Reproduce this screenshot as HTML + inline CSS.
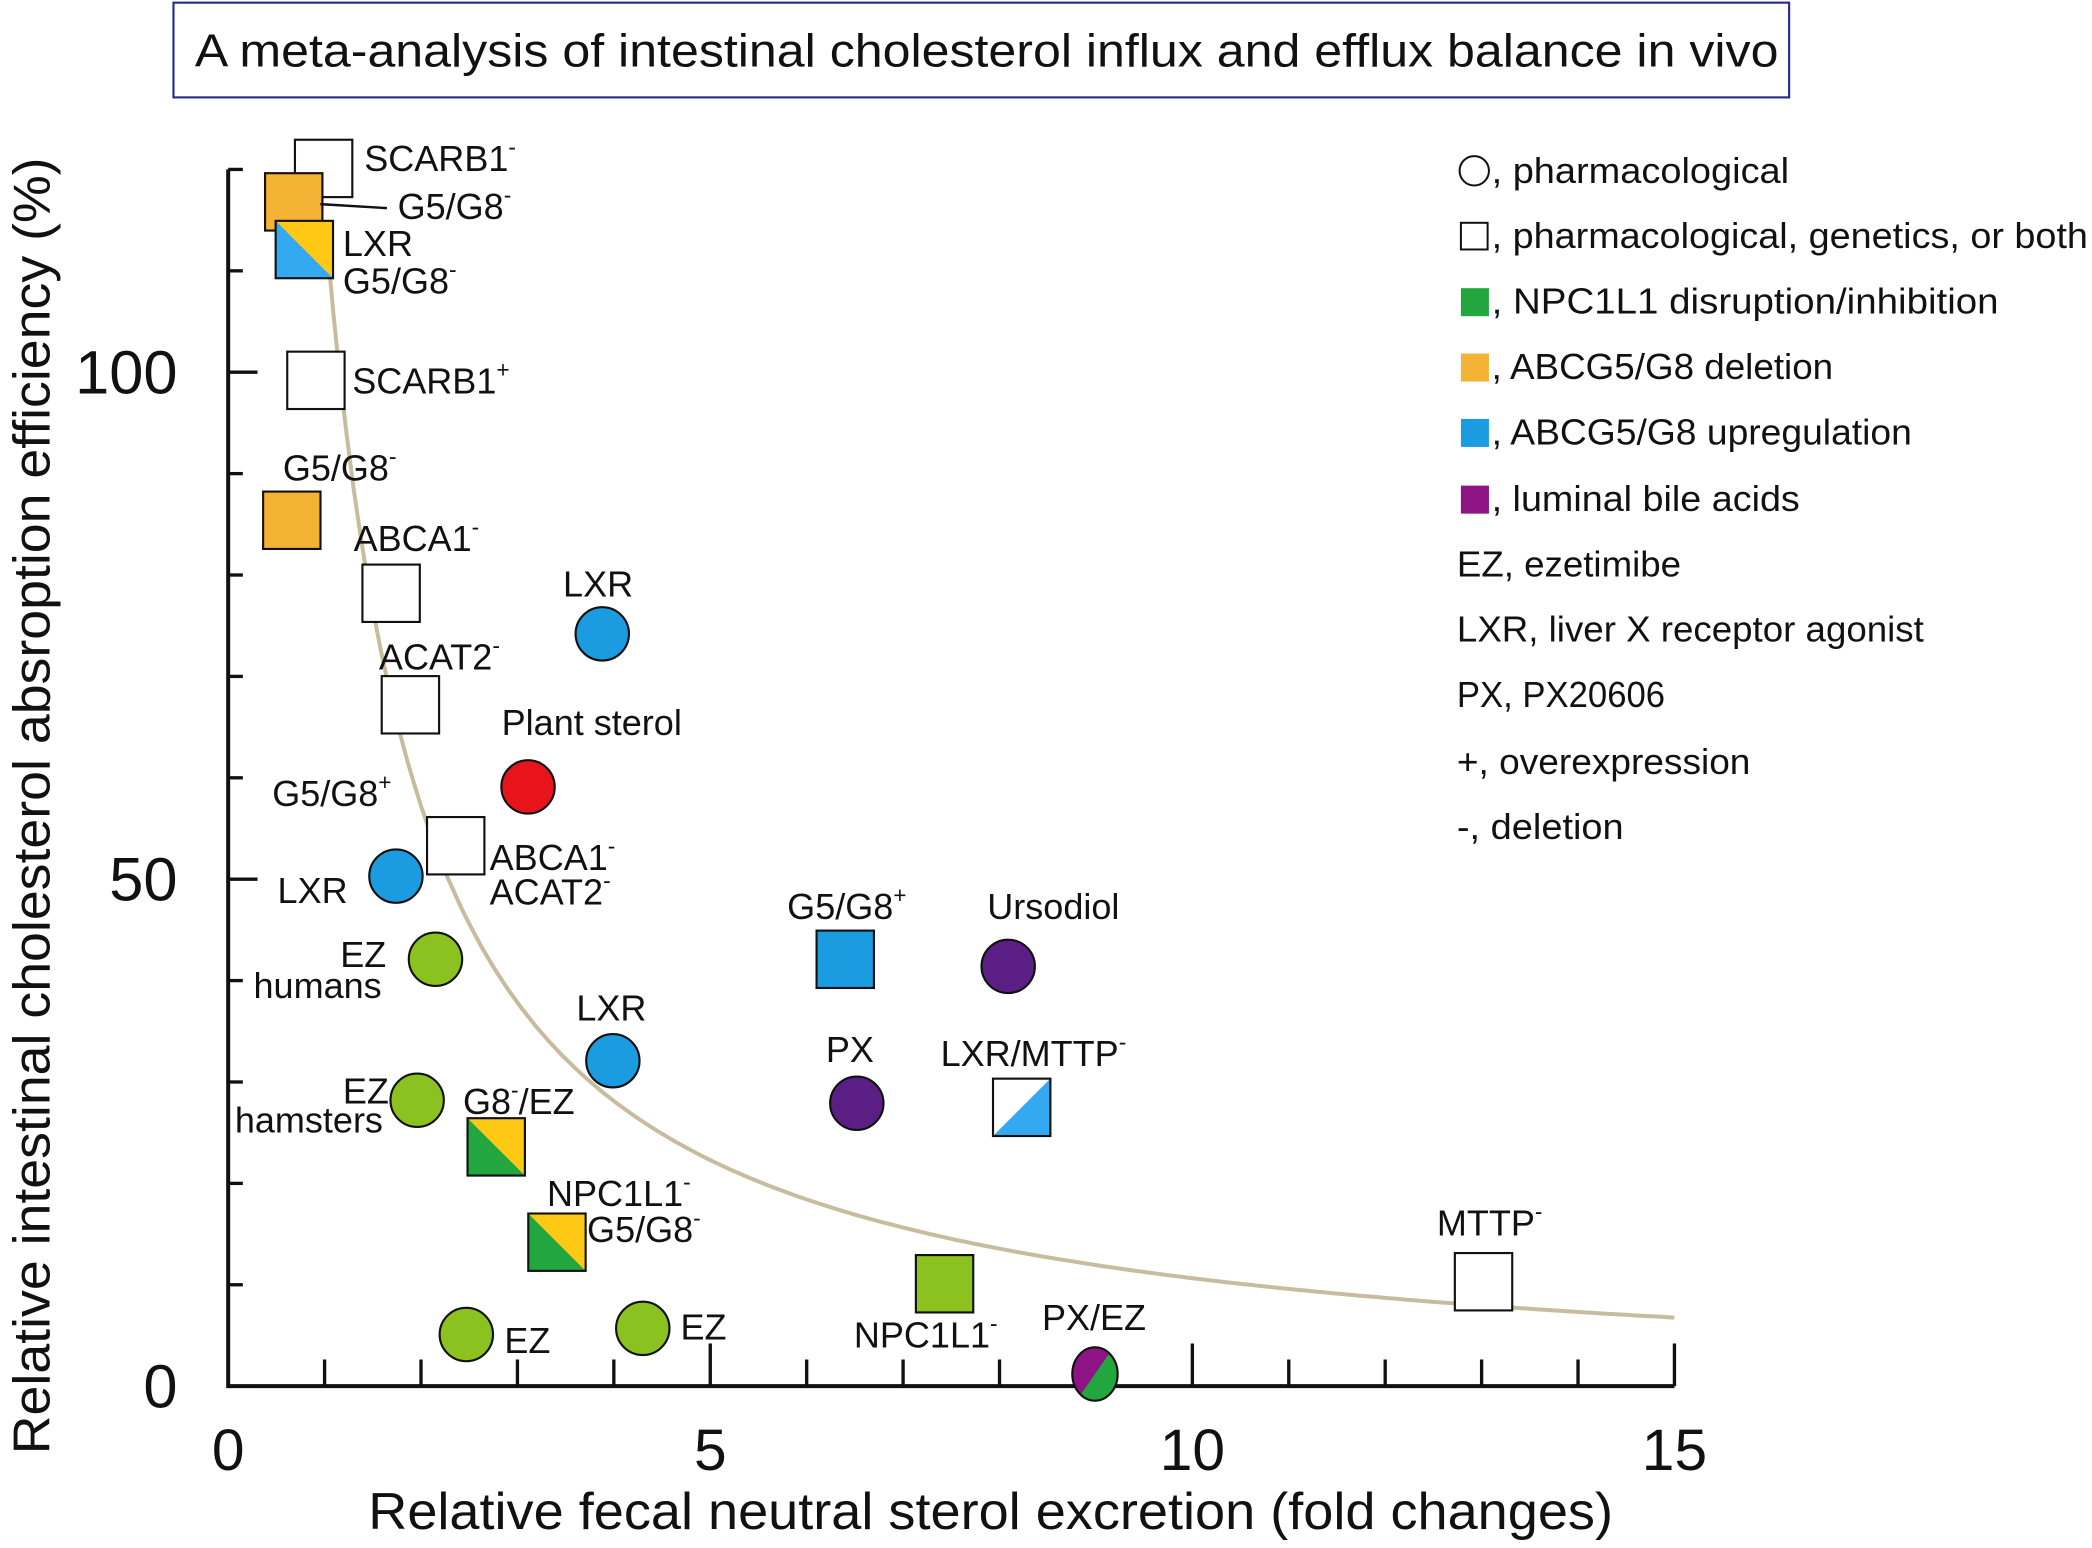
<!DOCTYPE html>
<html><head><meta charset="utf-8"><style>
html,body{margin:0;padding:0;background:#fff;}
svg{display:block;font-family:"Liberation Sans",sans-serif;}
</style></head><body>
<svg id="chart" width="2092" height="1548" viewBox="0 0 1568 1160.3" xmlns="http://www.w3.org/2000/svg">
<rect x="130" y="2" width="1211" height="71" fill="#fff" stroke="#2a2a8a" stroke-width="1.6"/>
<text x="146" y="50" font-size="35" textLength="1187" lengthAdjust="spacingAndGlyphs" fill="#111">A meta-analysis of intestinal cholesterol influx and efflux balance in vivo</text>
<g id="axes"></g>
<path id="curve" fill="none" stroke="#c8bc9f" stroke-width="3"/>
<g id="marks"></g>
<g id="labels" font-size="27" fill="#111">
<text x="273" y="128">SCARB1<tspan dy="-12" font-size="17">-</tspan></text>
<line x1="240" y1="153" x2="290" y2="156" stroke="#111" stroke-width="1.8"/>
<text x="298" y="164">G5/G8<tspan dy="-12" font-size="17">-</tspan></text>
<text x="257" y="192">LXR</text>
<text x="257" y="220">G5/G8<tspan dy="-12" font-size="17">-</tspan></text>
<text x="264" y="295">SCARB1<tspan dy="-12" font-size="17">+</tspan></text>
<text x="212" y="360">G5/G8<tspan dy="-12" font-size="17">-</tspan></text>
<text x="265" y="413">ABCA1<tspan dy="-12" font-size="17">-</tspan></text>
<text x="422" y="447">LXR</text>
<text x="284" y="502">ACAT2<tspan dy="-12" font-size="17">-</tspan></text>
<text x="376" y="551">Plant sterol</text>
<text x="204" y="604">G5/G8<tspan dy="-12" font-size="17">+</tspan></text>
<text x="367" y="652">ABCA1<tspan dy="-12" font-size="17">-</tspan></text>
<text x="367" y="678">ACAT2<tspan dy="-12" font-size="17">-</tspan></text>
<text x="208" y="677">LXR</text>
<text x="590" y="689">G5/G8<tspan dy="-12" font-size="17">+</tspan></text>
<text x="740" y="689">Ursodiol</text>
<text x="255" y="725">EZ</text>
<text x="190" y="748">humans</text>
<text x="432" y="765">LXR</text>
<text x="619" y="796">PX</text>
<text x="705" y="799">LXR/MTTP<tspan dy="-12" font-size="17">-</tspan></text>
<text x="257" y="827">EZ</text>
<text x="176" y="849">hamsters</text>
<text x="347" y="835">G8<tspan dy="-12" font-size="17">-</tspan><tspan dy="12">/EZ</tspan></text>
<text x="410" y="904">NPC1L1<tspan dy="-12" font-size="17">-</tspan></text>
<text x="440" y="931">G5/G8<tspan dy="-12" font-size="17">-</tspan></text>
<text x="1077" y="926">MTTP<tspan dy="-12" font-size="17">-</tspan></text>
<text x="781" y="997">PX/EZ</text>
<text x="510" y="1004">EZ</text>
<text x="378" y="1014">EZ</text>
<text x="640" y="1010">NPC1L1<tspan dy="-12" font-size="17">-</tspan></text>
</g>
<g id="legend" font-size="27" fill="#111">
<circle cx="1105" cy="128" r="11" fill="#fff" stroke="#111" stroke-width="1.5"/>
<text x="1118" y="137" textLength="223" lengthAdjust="spacingAndGlyphs">, pharmacological</text>
<rect x="1095" y="167" width="20" height="20" fill="#fff" stroke="#111" stroke-width="1.5"/>
<text x="1118" y="186" textLength="447" lengthAdjust="spacingAndGlyphs">, pharmacological, genetics, or both</text>
<rect x="1095" y="216" width="21" height="21" fill="#21a73d"/>
<text x="1118" y="235" textLength="380" lengthAdjust="spacingAndGlyphs">, NPC1L1 disruption/inhibition</text>
<rect x="1095" y="265" width="21" height="21" fill="#f5b335"/>
<text x="1118" y="284" textLength="256" lengthAdjust="spacingAndGlyphs">, ABCG5/G8 deletion</text>
<rect x="1095" y="314" width="21" height="21" fill="#1b9be0"/>
<text x="1118" y="333" textLength="315" lengthAdjust="spacingAndGlyphs">, ABCG5/G8 upregulation</text>
<rect x="1095" y="364" width="21" height="21" fill="#8e1384"/>
<text x="1118" y="383" textLength="231" lengthAdjust="spacingAndGlyphs">, luminal bile acids</text>
<text x="1092" y="432" textLength="168" lengthAdjust="spacingAndGlyphs">EZ, ezetimibe</text>
<text x="1092" y="481" textLength="350" lengthAdjust="spacingAndGlyphs">LXR, liver X receptor agonist</text>
<text x="1092" y="530" textLength="156" lengthAdjust="spacingAndGlyphs">PX, PX20606</text>
<text x="1092" y="580" textLength="220" lengthAdjust="spacingAndGlyphs">+, overexpression</text>
<text x="1092" y="629" textLength="125" lengthAdjust="spacingAndGlyphs">-, deletion</text>
</g>
<text x="276" y="1146" font-size="39" textLength="933" lengthAdjust="spacingAndGlyphs" fill="#111">Relative fecal neutral sterol excretion (fold changes)</text>
<text transform="translate(37,1090) rotate(-90)" font-size="39" textLength="972" lengthAdjust="spacingAndGlyphs" fill="#111">Relative intestinal cholesterol absroption efficiency (%)</text>
</svg>
<script>
const xTicks = [0,1,2,3,4,5,6,7,8,9,10,11,12,13,14,15];
const xTickLabels = ["0","5","10","15"];
const yTicks = [0,10,20,30,40,50,60,70,80,90,100,110,120];
const yTickLabels = ["0","50","100"];
// square markers: x, y, fill style
const sqX = [0.99,0.68,0.79,0.91,0.66,1.69,1.89,2.36,6.40,8.23,2.78,3.41,7.43,13.02];
const sqY = [120.1,116.8,112.1,99.2,85.4,78.2,67.2,53.3,42.1,27.5,23.6,14.2,10.1,10.3];
const sqKind = ["white","orange","blue-yellow","white","orange","white","white","white","blue","white-blue","green-yellow","green-yellow","lightgreen","white"];
// circle markers
const ciX = [3.88,3.11,1.74,2.15,3.99,8.09,6.52,1.96,2.47,4.30,8.99];
const ciY = [74.2,59.1,50.3,42.1,32.1,41.4,27.9,28.2,5.1,5.7,1.2];
const ciKind = ["blue","red","blue","lightgreen","blue","purple","purple","lightgreen","lightgreen","lightgreen","purple-green"];
const curveA = 116.5, curveC = -1, curveX0 = 1.02, curveX1 = 15;

const NS = "http://www.w3.org/2000/svg";
const X0 = 171, XPU = 72.27, Y0 = 1039, YPU = 7.6;
const sx = v => X0 + v * XPU;
const sy = v => Y0 - v * YPU;
function mk(tag, attrs, parent){const e=document.createElementNS(NS,tag);for(const k in attrs)e.setAttribute(k,attrs[k]);parent.appendChild(e);return e;}
const axes = document.getElementById('axes');
const xAxis = mk('line',{x1:sx(0),y1:Y0,x2:sx(15),y2:Y0,stroke:'#111','stroke-width':3},axes);


const yAxis = mk('line',{x1:X0,y1:Y0+1.5,x2:X0,y2:sy(120),stroke:'#111','stroke-width':3},axes);


xTicks.forEach(v=>{
  const major = v%5===0 && v>0;
  const t = mk('line',{x1:sx(v),y1:Y0,x2:sx(v),y2:Y0-(major?32:20),stroke:'#111','stroke-width':2.5},axes);
  
  
});
xTickLabels.forEach(s=>{
  const t = mk('text',{x:sx(+s),y:1102,'font-size':44,'text-anchor':'middle',fill:'#111'},axes);
  t.textContent = s;
  
  
});
yTicks.forEach(v=>{
  const major = v%50===0;
  const t = mk('line',{x1:X0,y1:sy(v),x2:X0+(major?22:11),y2:sy(v),stroke:'#111','stroke-width':2.5},axes);
  
  
});
yTickLabels.forEach(s=>{
  const t = mk('text',{x:133,y:sy(+s)+16,'font-size':46,'text-anchor':'end',fill:'#111'},axes);
  t.textContent = s;
  
  
});
// curve
let d='';
for(let i=0;i<=200;i++){const x=curveX0+(curveX1-curveX0)*i/200;const y=curveA/x+curveC;d+=(i?'L':'M')+sx(x).toFixed(1)+' '+sy(y).toFixed(1);}
document.getElementById('curve').setAttribute('d',d);
const C = {white:'#fff',orange:'#f5b335',blue:'#1b9be0',sky:'#33a9f1',yellow:'#ffc815',green:'#21a73d',lightgreen:'#8cc21f',purple:'#5b1e84',magenta:'#8e1384',red:'#e8141b'};
const marks = document.getElementById('marks');
const H = 21.5;
sqX.forEach((xv,i)=>{
  const cx=sx(xv), cy=sy(sqY[i]), k=sqKind[i];
  const g = mk('g',{},marks);
  
  
  const L=cx-H,R=cx+H,T=cy-H,B=cy+H;
  if(k==='blue-yellow'||k==='green-yellow'){
    mk('polygon',{points:`${L},${T} ${R},${T} ${R},${B}`,fill:C.yellow},g);
    mk('polygon',{points:`${L},${T} ${L},${B} ${R},${B}`,fill:k==='blue-yellow'?C.sky:C.green},g);
  } else if(k==='white-blue'){
    mk('polygon',{points:`${L},${T} ${R},${T} ${L},${B}`,fill:C.white},g);
    mk('polygon',{points:`${R},${T} ${R},${B} ${L},${B}`,fill:C.sky},g);
  } else {
    mk('rect',{x:L,y:T,width:2*H,height:2*H,fill:C[k]},g);
  }
  mk('rect',{x:L,y:T,width:2*H,height:2*H,fill:'none',stroke:'#111','stroke-width':1.6},g);
});
ciX.forEach((xv,i)=>{
  const cx=sx(xv), cy=sy(ciY[i]), k=ciKind[i], r=20;
  const g = mk('g',{},marks);
  
  
  if(k==='purple-green'){
    mk('ellipse',{cx:cx,cy:cy,rx:17,ry:20,fill:C.green},g);
    const a=Math.PI/4;
    mk('path',{d:`M${cx+17*Math.cos(-a-0.1)} ${cy+20*Math.sin(-a-0.1)} A17 20 0 0 0 ${cx-17*Math.cos(-a-0.1)} ${cy-20*Math.sin(-a-0.1)} Z`,fill:C.magenta},g);
    mk('ellipse',{cx:cx,cy:cy,rx:17,ry:20,fill:'none',stroke:'#111','stroke-width':1.6},g);
  } else {
    mk('circle',{cx:cx,cy:cy,r:r,fill:C[k],stroke:'#111','stroke-width':1.6},g);
  }
});
</script>
</body></html>
